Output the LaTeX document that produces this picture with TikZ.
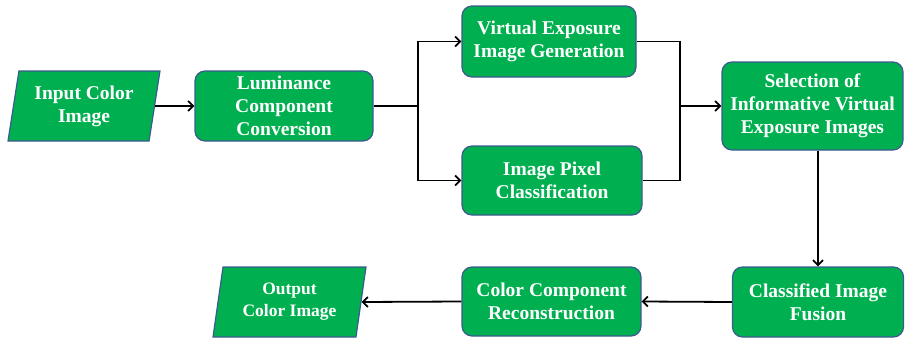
\documentclass[tikz,border=0pt]{standalone}
\usepackage{fontspec}
\setmainfont{Liberation Serif}
\usetikzlibrary{arrows.meta,shapes.geometric}
\definecolor{boxgreen}{HTML}{00B050}
\definecolor{boxedge}{HTML}{3B5B8E}
\begin{document}
\begin{tikzpicture}[x=1pt,y=-1pt,
  txt/.style={text=white,font=\bfseries\fontsize{19.5}{23}\selectfont,align=center},
  stepbox/.style={txt,draw=boxedge,fill=boxgreen,line width=1.2pt,rounded corners=10pt,inner sep=0pt},
  iobox/.style={txt,draw=boxedge,fill=boxgreen,line width=1.2pt,shape=trapezium,
    trapezium left angle=75,trapezium right angle=105,trapezium stretches body,inner sep=0pt},
  link/.style={draw=black,line width=1.8pt},
  arr/.style={link,-{Straight Barb[length=5pt,width=10pt]}}]
\useasboundingbox (0,0) rectangle (905,340);

% input / output shapes
\node[iobox,minimum width=152,minimum height=70] (in) at (84,106) {Input Color\\Image};
\node[iobox,minimum width=153,minimum height=70,font=\bfseries\fontsize{17.5}{22}\selectfont] (out) at (289.5,302) {Output\\Color Image};

% processing steps
\node[stepbox,minimum width=178,minimum height=70] (lum) at (284,106) {Luminance\\Component\\Conversion};
\node[stepbox,minimum width=174,minimum height=71] (veg) at (549,41.5) {Virtual Exposure\\Image Generation};
\node[stepbox,minimum width=180,minimum height=69] (ipc) at (552,180.5) {Image Pixel\\Classification};
\node[stepbox,minimum width=181,minimum height=88] (sel) at (812.5,106) {Selection of\\Informative Virtual\\Exposure Images};
\node[stepbox,minimum width=171,minimum height=70] (cif) at (818,302) {Classified Image\\Fusion};
\node[stepbox,minimum width=179,minimum height=69] (ccr) at (551.5,301.5) {Color Component\\Reconstruction};

% branch points
\coordinate (split) at (418,106);
\coordinate (merge) at (680,106);

% connectors
\draw[arr] (in.east) -- (lum.west);
\draw[link] (lum.east) -- (split);
\draw[arr] (split) |- (veg.west);
\draw[arr] (split) |- (ipc.west);
\draw[link] (veg.east) -| (merge);
\draw[link] (ipc.east) -| (merge);
\draw[arr] (merge) -- (sel.west);
\draw[arr] (sel.south -| cif.north) -- (cif.north);
\draw[arr] (cif.west) -- (ccr.east);
\draw[arr] (ccr.west) -- (out.east);
\end{tikzpicture}
\end{document}
